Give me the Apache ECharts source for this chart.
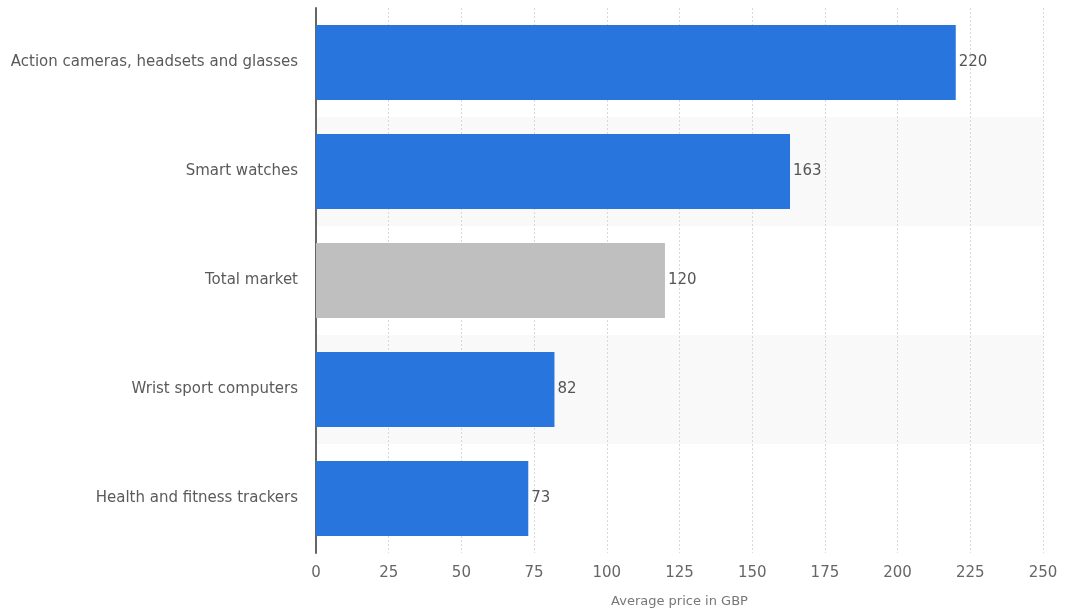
<!DOCTYPE html>
<html>
<head>
<meta charset="utf-8">
<style>
  html, body { margin: 0; padding: 0; background: #fff; }
  #chart { width: 1066px; height: 609px; }
</style>
<script src="https://cdn.jsdelivr.net/npm/echarts@6/dist/echarts.min.js"></script>
</head>
<body>
<div id="chart"></div>
<script>
// Average price of wearable devices by segment (GBP)
const categories = [
  'Action cameras, headsets and glasses',
  'Smart watches',
  'Total market',
  'Wrist sport computers',
  'Health and fitness trackers'
];
const prices = [220, 163, 120, 82, 73];
const highlight = [false, false, true, false, false];
const xTicks = [0, 25, 50, 75, 100, 125, 150, 175, 200, 225, 250];

const FONT = '"DejaVu Sans", Verdana, sans-serif';
const chart = echarts.init(document.getElementById('chart'), null, { renderer: 'canvas' });

chart.setOption({
  animation: false,
  backgroundColor: '#ffffff',
  grid: {
    left: 316, right: 23, top: 8, bottom: 56,
    containLabel: false,
    outerBoundsMode: 'none'
  },
  xAxis: {
    type: 'value',
    min: xTicks[0],
    max: xTicks[xTicks.length - 1],
    interval: 25,
    name: 'Average price in GBP',
    nameLocation: 'middle',
    nameGap: 42,
    nameTextStyle: { color: '#777', fontSize: 13, fontFamily: FONT },
    axisLine: { show: false },
    axisTick: { show: false },
    axisLabel: { color: '#666', fontSize: 15, fontFamily: FONT, margin: 13 },
    splitLine: { show: true, lineStyle: { color: '#d8d8d8', type: [2, 2], width: 1 } }
  },
  yAxis: {
    type: 'category',
    data: categories,
    inverse: true,
    axisLine: { show: true, lineStyle: { color: '#666', width: 2 } },
    axisTick: { show: false },
    axisLabel: { color: '#5a5a5a', fontSize: 15, fontFamily: FONT, margin: 18 },
    splitArea: { show: true, areaStyle: { color: ['rgba(255,255,255,0)', '#f9f9f9'] } }
  },
  series: [{
    type: 'bar',
    barCategoryGap: '31%',
    data: prices.map((v, i) => ({
      value: v,
      itemStyle: { color: highlight[i] ? '#bfbfbf' : '#2876dd' }
    })),
    label: {
      show: true,
      position: 'right',
      distance: 3,
      color: '#555',
      fontSize: 15,
      fontFamily: FONT
    }
  }]
});
</script>
</body>
</html>
